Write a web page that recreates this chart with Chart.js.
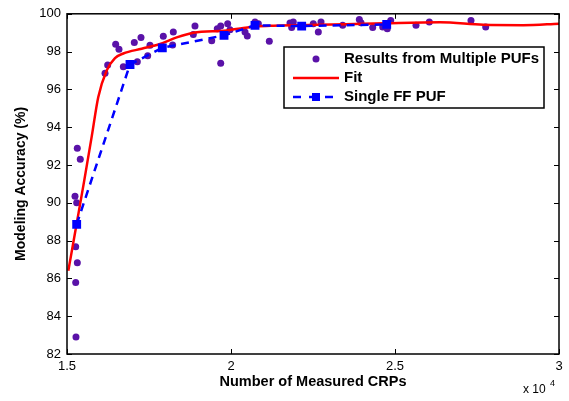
<!DOCTYPE html>
<html>
<head>
<meta charset="utf-8">
<script src="https://cdn.jsdelivr.net/npm/chart.js@4"></script>
<style>
  html, body { margin: 0; padding: 0; background: #fff; }
  #wrap { width: 569px; height: 401px; }
</style>
</head>
<body>
<div id="wrap"><canvas id="chart" width="569" height="401"></canvas></div>
<script>
// measured points from multiple PUFs (CRPs, accuracy %)
const multiX = [15244, 15295, 15265, 15315, 15265, 15274, 15314, 15405, 16159, 16240,
    16484, 16585, 16717, 17052, 17256, 17144, 17460, 17530, 17936, 18241,
    18220, 18902, 18851, 19412, 19582, 19686, 19686, 19899, 19970, 20427,
    20497, 20732, 20834, 21168, 21799, 21899, 21850, 22509, 22662, 22744,
    23405, 23912, 23963, 24320, 24625, 24765, 24869, 25640, 26046, 27317, 27765];
const multiY = [90.35, 90.0, 87.67, 86.83, 85.78, 82.9, 92.88, 92.3, 96.85, 97.29,
    98.39, 98.13, 97.2, 98.48, 98.74, 97.46, 97.78, 98.34, 98.81, 99.04,
    98.35, 99.35, 98.91, 98.57, 99.21, 99.35, 97.38, 99.48, 99.16, 99.04,
    98.83, 99.56, 99.48, 98.55, 99.51, 99.56, 99.27, 99.48, 99.04, 99.56,
    99.39, 99.7, 99.53, 99.27, 99.3, 99.21, 99.65, 99.39, 99.56, 99.65, 99.3];

// fitted curve
const fitX = [15040, 15295, 15528, 15753, 15954, 16210, 16463, 16717, 17277, 17835,
    18345, 18851, 19869, 20375, 20782, 21290, 22104, 23500, 24700, 26372, 27692, 28911, 30000];
const fitY = [86.4, 88.9, 91.2, 93.5, 95.6, 97.0, 97.65, 97.9, 98.15, 98.4,
    98.75, 99.0, 99.12, 99.25, 99.33, 99.37, 99.4, 99.45, 99.5, 99.55, 99.42, 99.4, 99.48];

// single FF PUF
const singleX = [15295, 16921, 17906, 19787, 20732, 22155, 24747];
const singleY = [88.86, 97.32, 98.2, 98.86, 99.39, 99.35, 99.44];

const xTicks = [15000, 20000, 25000, 30000];
const yTicks = [82, 84, 86, 88, 90, 92, 94, 96, 98, 100];

const FONT = 'Liberation Sans, Arial, Helvetica, sans-serif';
const PURPLE = '#5a12a8';

const pts = (xs, ys) => xs.map((x, i) => ({ x, y: ys[i] }));

// box around plot, inward ticks on all four sides, x10^4 note, legend
const matlabFrame = {
    id: 'matlabFrame',
    afterDraw(chart) {
        const { ctx, chartArea: a, scales: { x, y } } = chart;
        ctx.save();
        ctx.strokeStyle = '#000';
        ctx.lineWidth = 1.5;
        ctx.strokeRect(a.left, a.top, a.right - a.left, a.bottom - a.top);
        ctx.lineWidth = 1;
        ctx.beginPath();
        xTicks.forEach(v => {
            const px = Math.round(x.getPixelForValue(v)) + 0.5;
            ctx.moveTo(px, a.bottom); ctx.lineTo(px, a.bottom - 5);
            ctx.moveTo(px, a.top); ctx.lineTo(px, a.top + 5);
        });
        yTicks.forEach(v => {
            const py = Math.round(y.getPixelForValue(v)) + 0.5;
            ctx.moveTo(a.left, py); ctx.lineTo(a.left + 5, py);
            ctx.moveTo(a.right, py); ctx.lineTo(a.right - 5, py);
        });
        ctx.stroke();

        // exponent note
        ctx.fillStyle = '#000';
        ctx.textBaseline = 'alphabetic';
        ctx.textAlign = 'left';
        ctx.font = '12px ' + FONT;
        ctx.fillText('x 10', 523, 393);
        ctx.font = '9px ' + FONT;
        ctx.fillText('4', 550, 386);

        // legend
        const L = 284, T = 47, R = 544, B = 108;
        ctx.fillStyle = '#fff';
        ctx.fillRect(L, T, R - L, B - T);
        ctx.lineWidth = 1.5;
        ctx.strokeStyle = '#000';
        ctx.strokeRect(L, T, R - L, B - T);
        const rows = [59, 78, 97];
        const sx0 = 293, sx1 = 339, tx = 344;
        // scatter row
        ctx.fillStyle = PURPLE;
        ctx.beginPath(); ctx.arc((sx0 + sx1) / 2, rows[0], 3.5, 0, Math.PI * 2); ctx.fill();
        // fit row
        ctx.strokeStyle = '#ff0000'; ctx.lineWidth = 2.5;
        ctx.beginPath(); ctx.moveTo(sx0, rows[1]); ctx.lineTo(sx1, rows[1]); ctx.stroke();
        // single row
        ctx.strokeStyle = '#0000ff'; ctx.setLineDash([8, 8]);
        ctx.beginPath(); ctx.moveTo(sx0, rows[2]); ctx.lineTo(sx1 + 2, rows[2]); ctx.stroke();
        ctx.setLineDash([]);
        ctx.fillStyle = '#0000ff';
        ctx.fillRect((sx0 + sx1) / 2 - 4, rows[2] - 4, 8, 8);
        ctx.fillStyle = '#000';
        ctx.font = 'bold 15px ' + FONT;
        ctx.textBaseline = 'middle';
        ctx.fillText('Results from Multiple PUFs', tx, rows[0]);
        ctx.fillText('Fit', tx, rows[1]);
        ctx.fillText('Single FF PUF', tx, rows[2]);
        ctx.restore();
    }
};

new Chart(document.getElementById('chart'), {
    type: 'scatter',
    data: {
        datasets: [
            {
                label: 'Results from Multiple PUFs',
                data: pts(multiX, multiY),
                showLine: false,
                pointRadius: 3.5,
                pointBackgroundColor: PURPLE,
                pointBorderColor: PURPLE,
                pointBorderWidth: 0,
                order: 3,
            },
            {
                label: 'Fit',
                data: pts(fitX, fitY),
                showLine: true,
                borderColor: '#ff0000',
                borderWidth: 2.5,
                pointRadius: 0,
                cubicInterpolationMode: 'monotone',
                order: 2,
            },
            {
                label: 'Single FF PUF',
                data: pts(singleX, singleY),
                showLine: true,
                borderColor: '#0000ff',
                borderWidth: 2.5,
                borderDash: [8, 6],
                pointStyle: 'rect',
                pointRadius: 4.5,
                pointBackgroundColor: '#0000ff',
                pointBorderColor: '#0000ff',
                order: 1,
            },
        ],
    },
    options: {
        responsive: false,
        animation: false,
        layout: { padding: { top: 11, right: 10, left: 0, bottom: 0 } },
        plugins: { legend: { display: false }, tooltip: { enabled: false } },
        scales: {
            x: {
                type: 'linear',
                min: 15000,
                max: 30000,
                afterBuildTicks: s => { s.ticks = xTicks.map(v => ({ value: v })); },
                afterFit: s => { s.height = 47; },
                ticks: {
                    padding: 5,
                    color: '#000',
                    maxRotation: 0,
                    font: { family: FONT, size: 13 },
                    callback: v => String(v / 10000),
                },
                grid: { display: false, drawTicks: false },
                border: { display: false },
                title: {
                    display: true,
                    text: 'Number of Measured CRPs',
                    color: '#000',
                    font: { family: FONT, size: 14.5, weight: 'bold' },
                    padding: { top: 0, bottom: 10 },
                },
            },
            y: {
                min: 82,
                max: 100,
                afterBuildTicks: s => { s.ticks = yTicks.map(v => ({ value: v })); },
                afterFit: s => { s.width = 67; },
                ticks: {
                    padding: 6,
                    color: '#000',
                    font: { family: FONT, size: 13 },
                },
                grid: { display: false, drawTicks: false },
                border: { display: false },
                title: {
                    display: true,
                    text: 'Modeling Accuracy (%)',
                    color: '#000',
                    font: { family: FONT, size: 14, weight: 'bold' },
                    padding: { top: 13, bottom: 0 },
                },
            },
        },
    },
    plugins: [matlabFrame],
});
</script>
</body>
</html>
